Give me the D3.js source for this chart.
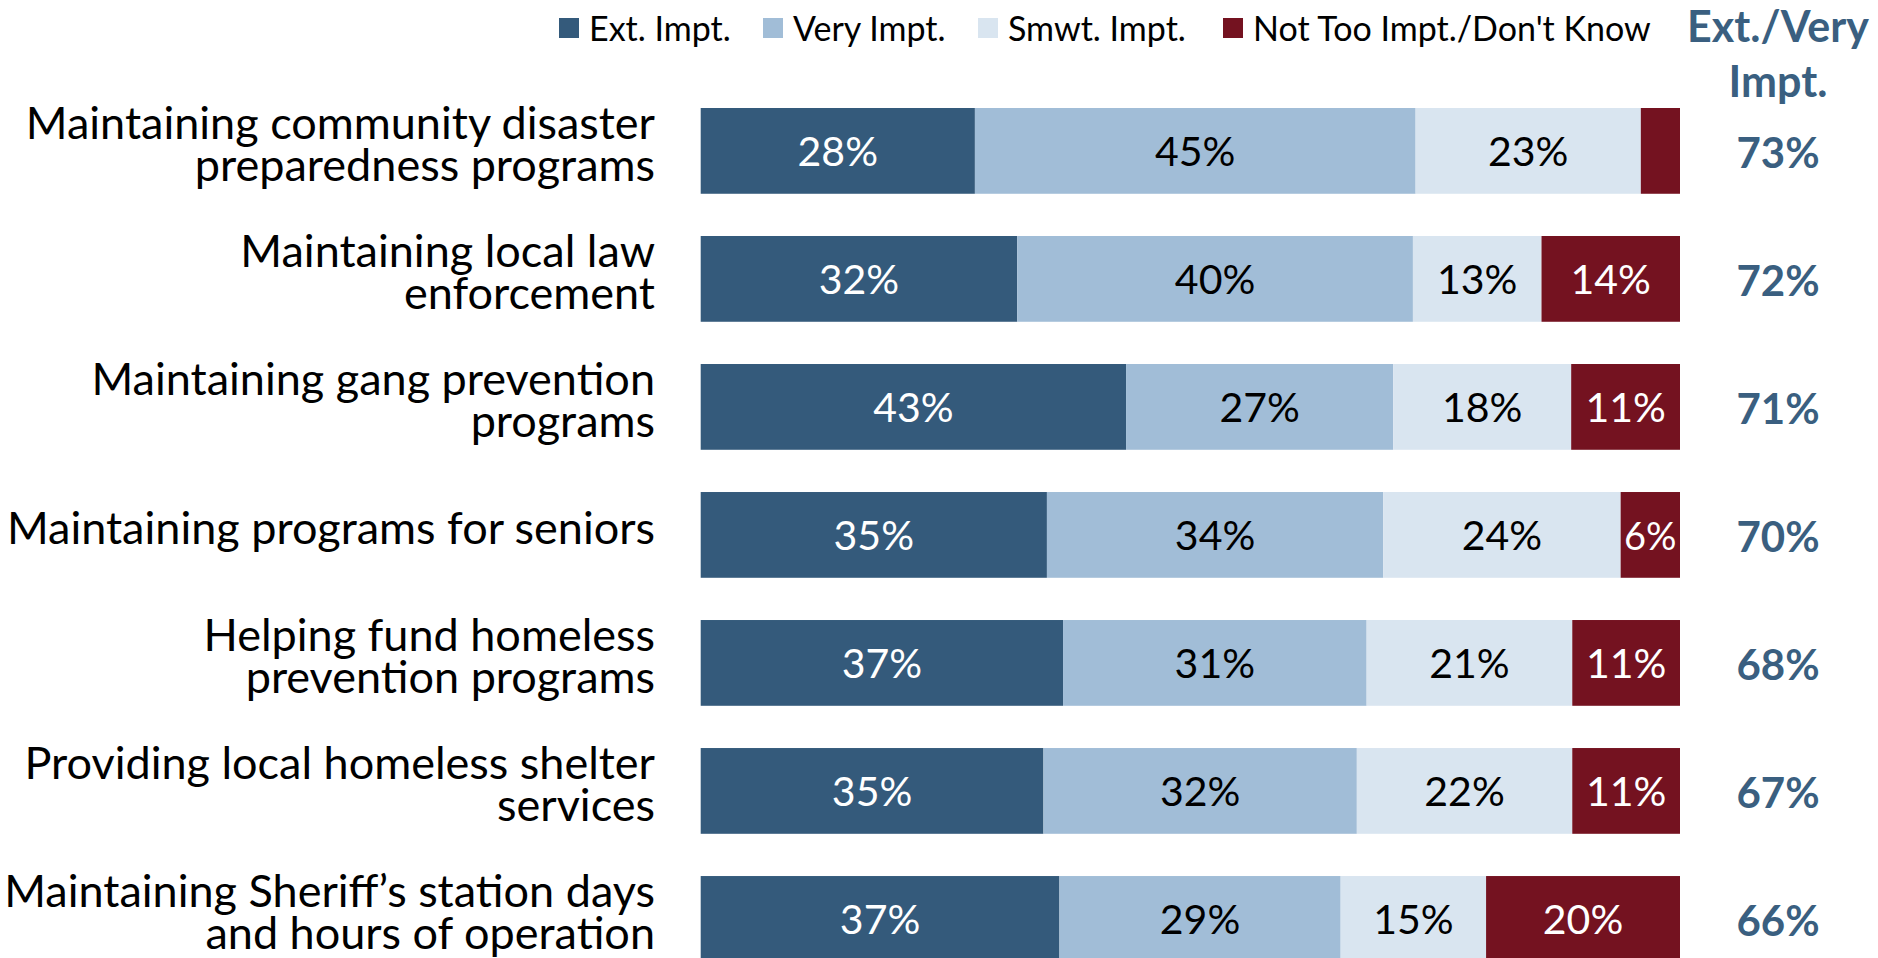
<!DOCTYPE html>
<html>
<head>
<meta charset="utf-8">
<script src="https://cdn.jsdelivr.net/npm/d3@7"></script>
<style>
  html, body { margin: 0; padding: 0; background: #fff; }
  svg { display: block; font-family: Lato, "Open Sans", sans-serif; }
</style>
</head>
<body>
<svg id="chart" width="1878" height="958"></svg>
<script>
const categories = [
  "Maintaining community disaster\npreparedness programs",
  "Maintaining local law\nenforcement",
  "Maintaining gang prevention\nprograms",
  "Maintaining programs for seniors",
  "Helping fund homeless\nprevention programs",
  "Providing local homeless shelter\nservices",
  "Maintaining Sheriff’s station days\nand hours of operation"
];
const seriesNames = ["Ext. Impt.", "Very Impt.", "Smwt. Impt.", "Not Too Impt./Don't Know"];
const extImpt    = [28, 32, 43, 35, 37, 35, 37];
const veryImpt   = [45, 40, 27, 34, 31, 32, 29];
const smwtImpt   = [23, 13, 18, 24, 21, 22, 15];
const notTooImpt = [4, 14, 11, 6, 11, 11, 20];
const extVeryTotal = [73, 72, 71, 70, 68, 67, 66];
const totalHeader = ["Ext./Very", "Impt."];

const colors = ["#345a7b", "#a1bdd7", "#d9e5f0", "#741220"];
const textColors = ["#ffffff", "#000000", "#000000", "#ffffff"];
const accent = "#3a5f80";

const svg = d3.select("#chart");

const rows = categories.map((c, i) => ({
  cat: c, i,
  s0: extImpt[i], s1: veryImpt[i], s2: smwtImpt[i], s3: notTooImpt[i]
}));
const keys = ["s0", "s1", "s2", "s3"];
const stacked = d3.stack().keys(keys).offset(d3.stackOffsetExpand)(rows);

const x = d3.scaleLinear().domain([0, 1]).range([700.7, 1680]);
const y = d3.scaleBand().domain(categories).range([108, 961.8]).paddingInner(0.33).paddingOuter(0);

// bars
const layers = svg.append("g").selectAll("g").data(stacked).join("g")
  .attr("fill", (d, k) => colors[k]);
layers.selectAll("rect").data(d => d).join("rect")
  .attr("x", d => x(d[0]))
  .attr("y", d => y(d.data.cat))
  .attr("width", d => x(d[1]) - x(d[0]))
  .attr("height", y.bandwidth());

// segment labels
const segFont = 41;
stacked.forEach((layer, k) => {
  layer.forEach(d => {
    const v = d.data[keys[k]];
    const w = x(d[1]) - x(d[0]);
    if (v < 5) return;
    const t = svg.append("text")
      .attr("x", (x(d[0]) + x(d[1])) / 2)
      .attr("y", y(d.data.cat) + y.bandwidth() / 2)
      .attr("text-anchor", "middle")
      .attr("dominant-baseline", "central")
      .attr("fill", textColors[k])
      .style("font-size", segFont + "px")
      .text(v + "%");
    let fs = segFont;
    while (t.node().getComputedTextLength() > w - 6 && fs > 10) {
      fs -= 1;
      t.style("font-size", fs + "px");
    }
  });
});

// category labels (one text element per category, lines as tspans)
const labelG = svg.append("g");
categories.forEach(c => {
  const lines = c.split("\n");
  const cy = y(c) + y.bandwidth() / 2;
  const offsets = lines.length === 2 ? [-29, 13] : [-8];
  const t = labelG.append("text")
    .attr("text-anchor", "end")
    .attr("dominant-baseline", "central")
    .attr("fill", "#000")
    .style("font-size", "45px");
  lines.forEach((ln, j) => {
    t.append("tspan")
      .attr("x", 655)
      .attr("y", cy + offsets[j])
      .attr("dominant-baseline", "central")
      .text(ln);
  });
});

// totals column
svg.append("g").selectAll("text").data(categories).join("text")
  .attr("x", 1778)
  .attr("y", c => y(c) + y.bandwidth() / 2 + 1)
  .attr("text-anchor", "middle")
  .attr("dominant-baseline", "central")
  .attr("fill", accent)
  .style("font-size", "42px")
  .style("font-weight", "bold")
  .text((c, i) => extVeryTotal[i] + "%");

// header of totals
const hdr = svg.append("text")
  .attr("text-anchor", "middle")
  .attr("fill", accent)
  .style("font-size", "43px")
  .style("font-weight", "bold");
totalHeader.forEach((h, j) => {
  hdr.append("tspan")
    .attr("x", 1778)
    .attr("y", [25, 80][j])
    .attr("dominant-baseline", "central")
    .text(h);
});

// legend
const legendX = [559, 763, 978, 1223];
const legend = svg.append("g");
seriesNames.forEach((n, k) => {
  legend.append("rect")
    .attr("x", legendX[k]).attr("y", 18)
    .attr("width", 20).attr("height", 20)
    .attr("fill", colors[k]);
  legend.append("text")
    .attr("x", legendX[k] + 30).attr("y", 27)
    .attr("dominant-baseline", "central")
    .attr("fill", "#000")
    .style("font-size", "34px")
    .text(n);
});
</script>
</body>
</html>
